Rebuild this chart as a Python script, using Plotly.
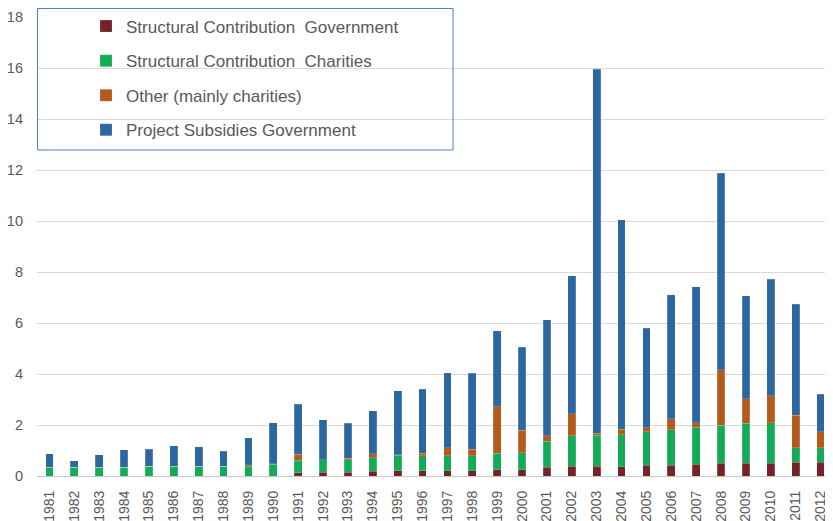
import plotly.graph_objects as go

years = [str(y) for y in range(1981, 2013)]

struct_gov = [0, 0, 0, 0, 0, 0, 0, 0, 0, 0,
              0.13, 0.14, 0.14, 0.18, 0.20, 0.20, 0.20, 0.20, 0.24, 0.24,
              0.35, 0.39, 0.39, 0.37, 0.42, 0.43, 0.46, 0.50, 0.51, 0.51,
              0.54, 0.54]
struct_char = [0.35, 0.35, 0.35, 0.35, 0.38, 0.39, 0.38, 0.38, 0.38, 0.46,
               0.49, 0.50, 0.49, 0.54, 0.61, 0.60, 0.60, 0.60, 0.65, 0.67,
               1.01, 1.18, 1.21, 1.24, 1.31, 1.38, 1.45, 1.50, 1.56, 1.58,
               0.56, 0.56]
other = [0, 0, 0, 0, 0, 0, 0, 0, 0.06, 0.02,
         0.23, 0, 0.06, 0.16, 0.02, 0.10, 0.31, 0.24, 1.83, 0.89,
         0.21, 0.87, 0.07, 0.22, 0.16, 0.43, 0.18, 2.17, 0.95, 1.06,
         1.29, 0.64]
project = [0.52, 0.24, 0.48, 0.67, 0.67, 0.79, 0.77, 0.60, 1.06, 1.61,
           1.97, 1.56, 1.38, 1.68, 2.52, 2.50, 2.93, 2.98, 2.98, 3.25,
           4.55, 5.41, 14.28, 8.22, 3.91, 4.86, 5.34, 7.70, 4.05, 4.57,
           4.34, 1.46]

series = [
    ("Structural Contribution  Government", struct_gov, "#762327"),
    ("Structural Contribution  Charities", struct_char, "#13ab57"),
    ("Other (mainly charities)", other, "#b45b1c"),
    ("Project Subsidies Government", project, "#2d67a0"),
]

fig = go.Figure()
for i, (name, vals, col) in enumerate(series):
    fig.add_trace(go.Bar(x=years, y=vals, name=name, legendgroup=f"g{i}",
                         marker=dict(color=col, line=dict(width=0.5, color="rgba(255,255,255,0.35)"))))

# page body has an 8px offset; figure laid out so plot area sits at
# image pixels x 37..833, y 17..476
W, H = 825, 513
L, T, R, B = 29, 9, 0, 45
pw = W - L - R
ph = H - T - B
OX, OY = 8 + L, 8 + T


def px_x(p):
    return (p - OX) / pw


def px_y(p):
    return (OY + ph - p) / ph


fig.update_layout(
    barmode="stack",
    bargap=0.69,
    width=W, height=H,
    margin=dict(l=L, r=R, t=T, b=B, autoexpand=False),
    paper_bgcolor="white",
    plot_bgcolor="white",
    font=dict(family="Liberation Sans, Arial, sans-serif", color="#595959"),
    showlegend=True,
    legend=dict(
        x=px_x(86), y=px_y(8.5), xanchor="left", yanchor="top",
        traceorder="grouped", tracegroupgap=9.5,
        font=dict(size=17, color="#595959"),
        bgcolor="rgba(0,0,0,0)",
    ),
    xaxis=dict(
        type="category",
        tickangle=-90,
        tickfont=dict(size=14, color="#595959"),
        showline=True, linecolor="#c8c8c8", linewidth=1,
        ticks="", showgrid=False, automargin=False,
        ticklabelstandoff=8,
    ),
    yaxis=dict(
        range=[0, 18],
        dtick=2,
        tickfont=dict(size=14.5, color="#595959"),
        showgrid=True, gridcolor="#d9d9d9", gridwidth=1,
        zeroline=False, showline=False, ticks="", automargin=False,
        ticklabelstandoff=13,
    ),
    shapes=[dict(
        type="rect", xref="paper", yref="paper",
        x0=px_x(37.5), x1=px_x(453), y0=px_y(150), y1=px_y(8.5),
        line=dict(color="#4f7fc4", width=1), fillcolor="rgba(0,0,0,0)",
    )],
)

fig.write_html("out.html")
